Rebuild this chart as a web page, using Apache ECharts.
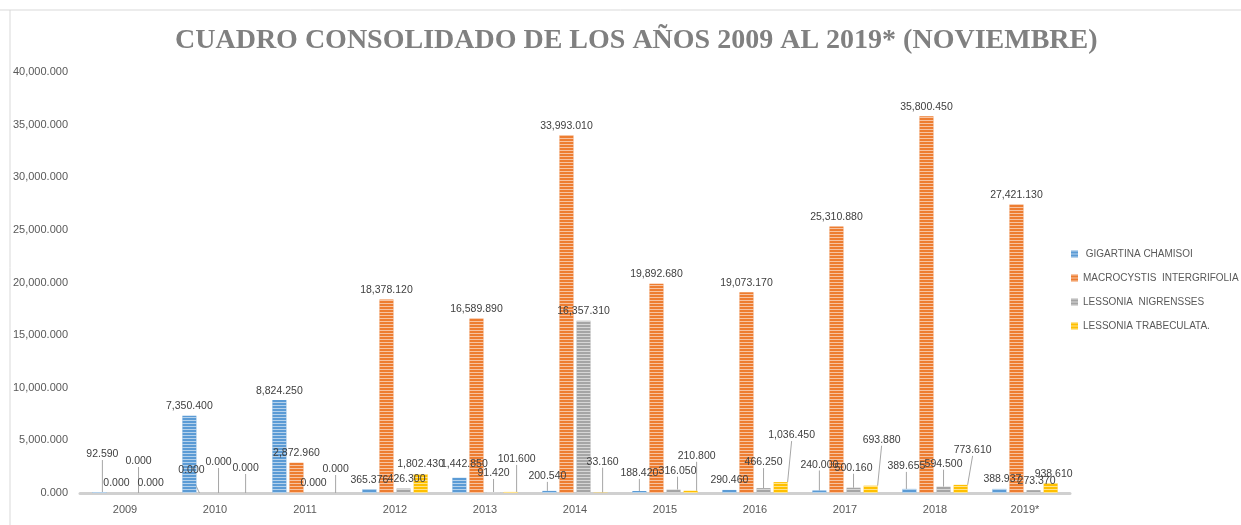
<!DOCTYPE html>
<html>
<head>
<meta charset="utf-8">
<script src="https://cdn.jsdelivr.net/npm/echarts@6/dist/echarts.min.js"></script>
<style>
  html, body { margin: 0; padding: 0; background: #fff; }
  #main { width: 1241px; height: 525px; }
</style>
</head>
<body>
<div id="main"></div>
<script>
  // valores en miles (7,350.400 = 7350.4)
  var years = ['2009', '2010', '2011', '2012', '2013', '2014', '2015', '2016', '2017', '2018', '2019*'];
  var gigartina = [92.59, 7350.4, 8824.25, 365.376, 1442.85, 200.54, 188.42, 290.46, 240.0, 389.655, 388.937];
  var macrocystis = [0, 0, 2872.96, 18378.12, 16589.89, 33993.01, 19892.68, 19073.17, 25310.88, 35800.45, 27421.13];
  var nigrensses = [0, 0, 0, 426.3, 91.42, 16357.31, 316.05, 466.25, 500.16, 594.5, 273.37];
  var trabeculata = [0, 0, 0, 1802.43, 101.6, 33.16, 210.8, 1036.45, 693.88, 773.61, 938.61];
  var names = [' GIGARTINA CHAMISOI', 'MACROCYSTIS  INTERGRIFOLIA', 'LESSONIA  NIGRENSSES', 'LESSONIA TRABECULATA.'];
  var colors = ['#5b9bd5', '#ed7d31', '#a5a5a5', '#ffc000'];

  // desplazamiento de etiquetas (como las movidas a mano en Excel)
  var labelShift = [
    [[3, -28], null, null, null, [5, -4], [-2, -5], [0, -8], null, [0, -16], [-3, -13], [3, 0]],
    [null, [-15, -13], null, null, null, null, null, null, null, null, null],
    [[5, -22], [-5, -21], null, [3, 0], [0, -9], null, [4, -9], [0, -16], [0, -10], [0, -13], [3, 0]],
    [null, [5, -15], [5, -14], null, [6, -23], [2, -21], [6, -25], [11, -37], [11, -36], [12, -25], [3, 0]]
  ];

  function fmt(v) {
    return Number(v).toLocaleString('en-US', { minimumFractionDigits: 3, maximumFractionDigits: 3 });
  }

  var chart = echarts.init(document.getElementById('main'));

  var series = [gigartina, macrocystis, nigrensses, trabeculata].map(function (d, i) {
    return {
      name: names[i],
      type: 'bar',
      data: d.map(function (v, j) {
        var o = labelShift[i][j];
        return { value: v, labelLine: { show: !!(o && o[1] <= -5) } };
      }),
      barWidth: 14,
      barGap: '22%',
      itemStyle: {
        color: colors[i],
        decal: {
          symbol: 'rect',
          symbolSize: 1,
          dashArrayX: [1, 0],
          dashArrayY: [1, 2],
          color: 'rgba(255,255,255,0.55)'
        }
      },
      label: {
        show: true,
        position: 'top',
        distance: 4,
        color: '#404040',
        fontSize: 10.5,
        fontFamily: 'Liberation Sans',
        formatter: function (p) { return fmt(p.value); }
      },
      labelLine: {
        lineStyle: { color: '#a6a6a6', width: 1 }
      },
      labelLayout: function (p) {
        var o = labelShift[p.seriesIndex][p.dataIndex];
        return o ? { dx: o[0], dy: o[1] } : {};
      }
    };
  });

  chart.setOption({
    animation: false,
    title: {
      text: 'CUADRO CONSOLIDADO DE LOS AÑOS 2009 AL 2019* (NOVIEMBRE)',
      left: 170,
      top: 22,
      textStyle: {
        fontFamily: 'Liberation Serif',
        fontWeight: 'bold',
        fontSize: 28,
        color: '#808080'
      }
    },
    legend: {
      orient: 'vertical',
      left: 1066,
      top: 244,
      itemGap: 14,
      itemWidth: 7,
      itemHeight: 7,
      icon: 'rect',
      textStyle: { fontSize: 10, color: '#595959', fontFamily: 'Liberation Sans' },
      data: names
    },
    grid: { left: 80, right: 171, top: 72, bottom: 32 },
    xAxis: {
      type: 'category',
      data: years,
      axisTick: { show: false },
      axisLine: { lineStyle: { color: '#d0d0d0', width: 3 } },
      axisLabel: { color: '#595959', fontSize: 11, fontFamily: 'Liberation Sans', margin: 11 }
    },
    yAxis: {
      type: 'value',
      min: 0,
      max: 40000,
      interval: 5000,
      axisLine: { show: false },
      axisTick: { show: false },
      splitLine: { show: false },
      axisLabel: { color: '#595959', fontSize: 11, fontFamily: 'Liberation Sans', margin: 12, formatter: fmt }
    },
    graphic: [
      { type: 'line', shape: { x1: 0, y1: 10, x2: 1241, y2: 10 }, style: { stroke: '#d9d9d9', lineWidth: 1 } },
      { type: 'line', shape: { x1: 10, y1: 10, x2: 10, y2: 525 }, style: { stroke: '#d9d9d9', lineWidth: 1 } }
    ],
    series: series
  });
</script>
</body>
</html>
